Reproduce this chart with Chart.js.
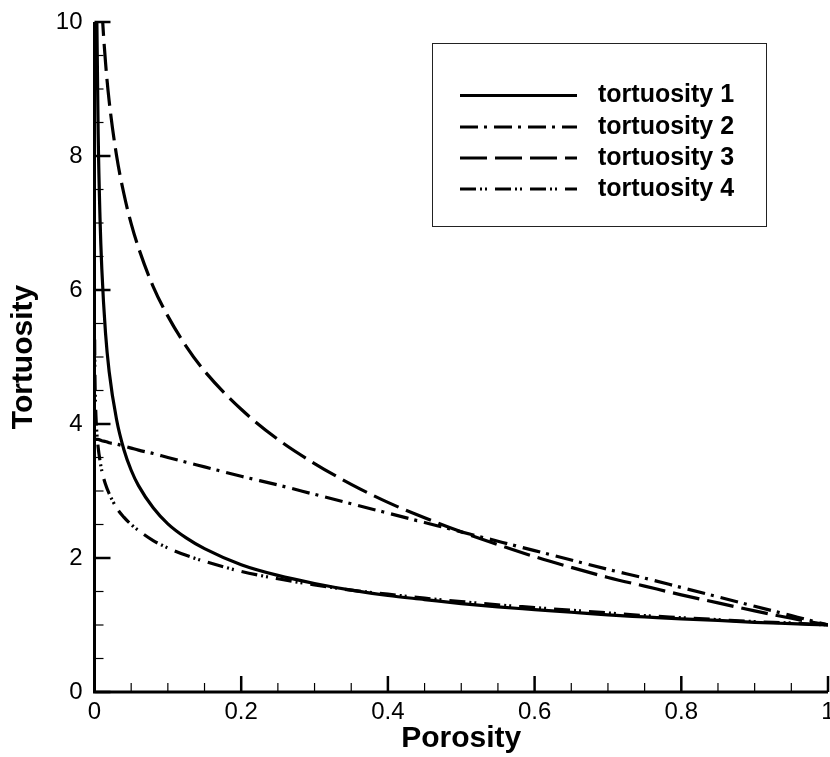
<!DOCTYPE html>
<html><head><meta charset="utf-8">
<script src="https://cdn.jsdelivr.net/npm/chart.js@4/dist/chart.umd.min.js"></script>
<style>html,body{margin:0;padding:0;background:#fff;overflow:hidden;}</style>
</head><body>
<canvas id="c" width="830" height="757"></canvas>
<script>
const porosity = [0.0002, 0.0005, 0.001, 0.002, 0.003, 0.005, 0.0075, 0.01, 0.015, 0.02, 0.03, 0.04, 0.05, 0.06, 0.08, 0.1, 0.125, 0.15, 0.2, 0.25, 0.3, 0.35, 0.4, 0.45, 0.5, 0.55, 0.6, 0.65, 0.7, 0.75, 0.8, 0.85, 0.9, 0.95, 1.0];
const tortuosity1 = [30.2, 20.9, 15.85, 12.01, 10.21, 8.33, 7.08, 6.31, 5.36, 4.78, 4.07, 3.62, 3.31, 3.08, 2.75, 2.51, 2.30, 2.14, 1.90, 1.74, 1.62, 1.52, 1.44, 1.38, 1.32, 1.27, 1.23, 1.19, 1.15, 1.12, 1.09, 1.07, 1.04, 1.02, 1.00];
const tortuosity2 = [3.78, 3.78, 3.78, 3.77, 3.77, 3.77, 3.76, 3.75, 3.74, 3.72, 3.70, 3.67, 3.64, 3.61, 3.56, 3.50, 3.43, 3.36, 3.22, 3.09, 2.95, 2.81, 2.67, 2.53, 2.39, 2.25, 2.11, 1.97, 1.83, 1.70, 1.56, 1.42, 1.28, 1.14, 1.00];
const tortuosity3 = [18.03, 16.20, 14.82, 13.43, 12.62, 11.60, 10.79, 10.21, 9.40, 8.82, 8.01, 7.44, 6.99, 6.63, 6.05, 5.61, 5.16, 4.79, 4.22, 3.77, 3.41, 3.10, 2.83, 2.60, 2.39, 2.20, 2.02, 1.86, 1.71, 1.58, 1.45, 1.33, 1.21, 1.10, 1.00];
const tortuosity4 = [5.26, 4.80, 4.45, 4.11, 3.90, 3.65, 3.45, 3.30, 3.10, 2.96, 2.75, 2.61, 2.50, 2.41, 2.26, 2.15, 2.04, 1.95, 1.80, 1.69, 1.60, 1.52, 1.46, 1.40, 1.35, 1.30, 1.26, 1.22, 1.18, 1.14, 1.11, 1.08, 1.05, 1.03, 1.00];
const seriesLabels = ['tortuosity 1', 'tortuosity 2', 'tortuosity 3', 'tortuosity 4'];
const xTitle = 'Porosity';
const yTitle = 'Tortuosity';

const FONT = '"Liberation Sans", Arial, Helvetica, sans-serif';
const dashes = [[], [18, 6, 3, 7], [27, 8], [16, 4, 2, 3, 2, 8]];
const allSeries = [tortuosity1, tortuosity2, tortuosity3, tortuosity4];

const datasets = allSeries.map((s, k) => ({
  label: seriesLabels[k],
  data: porosity.map((p, i) => ({x: p, y: s[i]})),
  borderColor: '#000',
  borderWidth: 3.2,
  borderDash: dashes[k],
  borderCapStyle: 'butt',
  pointRadius: 0,
  fill: false,
  cubicInterpolationMode: 'monotone'
}));

const fmt = v => String(Math.round(v * 100) / 100);

const axesPlugin = {
  id: 'axesTicks',
  afterDatasetsDraw(chart) {
    const {ctx, chartArea: {left, right, top, bottom}, scales: {x, y}} = chart;
    ctx.save();
    ctx.setLineDash([]);
    ctx.strokeStyle = '#000';
    for (let i = 0; i <= 20; i++) {
      const px = x.getPixelForValue(i * 0.05);
      const major = i % 4 === 0;
      ctx.lineWidth = major ? 2.5 : 1.2;
      ctx.beginPath();
      ctx.moveTo(px, bottom);
      ctx.lineTo(px, bottom - (major ? 16 : 9));
      ctx.stroke();
    }
    for (let i = 0; i <= 20; i++) {
      const py = y.getPixelForValue(i * 0.5);
      const major = i % 4 === 0;
      ctx.lineWidth = major ? 2.5 : 1.2;
      ctx.beginPath();
      ctx.moveTo(left, py);
      ctx.lineTo(left + (major ? 16 : 9), py);
      ctx.stroke();
    }
    ctx.lineWidth = 3;
    ctx.beginPath();
    ctx.moveTo(left, top);
    ctx.lineTo(left, bottom + 1.5);
    ctx.moveTo(left - 1.5, bottom);
    ctx.lineTo(right, bottom);
    ctx.stroke();
    ctx.restore();
  },
  afterDraw(chart) {
    const ctx = chart.ctx;
    ctx.save();
    ctx.setLineDash([]);
    ctx.lineWidth = 1;
    ctx.strokeStyle = '#222';
    ctx.strokeRect(432.5, 43.5, 334, 183);
    const rowsY = [95.5, 127, 158, 189];
    chart.data.datasets.forEach((ds, k) => {
      ctx.setLineDash(ds.borderDash || []);
      ctx.lineWidth = 3.2;
      ctx.strokeStyle = '#000';
      ctx.lineCap = 'butt';
      ctx.beginPath();
      ctx.moveTo(460, rowsY[k]);
      ctx.lineTo(577, rowsY[k]);
      ctx.stroke();
      ctx.setLineDash([]);
      ctx.fillStyle = '#000';
      ctx.font = 'bold 25px ' + FONT;
      ctx.textBaseline = 'middle';
      ctx.textAlign = 'left';
      ctx.fillText(ds.label, 598, rowsY[k]);
    });
    ctx.restore();
  }
};

new Chart(document.getElementById('c'), {
  type: 'line',
  data: {datasets},
  options: {
    responsive: false,
    animation: false,
    layout: {padding: {top: 22, right: 2, bottom: 0, left: 0}},
    plugins: {legend: {display: false}, tooltip: {enabled: false}},
    scales: {
      x: {
        type: 'linear', min: 0, max: 1,
        ticks: {stepSize: 0.2, color: '#000', padding: 6, font: {family: FONT, size: 24}, maxRotation: 0, callback: fmt},
        grid: {display: false, drawTicks: false},
        border: {display: false},
        title: {display: true, text: xTitle, color: '#000', font: {family: FONT, size: 30, weight: 'bold'}, padding: {top: 0, bottom: 0}},
        afterFit(s) { s.height = 65; s.paddingLeft = 0; s.paddingRight = 0; }
      },
      y: {
        type: 'linear', min: 0, max: 10,
        ticks: {stepSize: 2, color: '#000', padding: 12, font: {family: FONT, size: 24}, callback: fmt},
        grid: {display: false, drawTicks: false},
        border: {display: false},
        title: {display: true, text: yTitle, color: '#000', font: {family: FONT, size: 30, weight: 'bold'}, padding: {top: 6, bottom: 0}},
        afterFit(s) { s.width = 94.5; s.paddingTop = 0; s.paddingBottom = 0; }
      }
    }
  },
  plugins: [axesPlugin]
});
</script>
</body></html>
